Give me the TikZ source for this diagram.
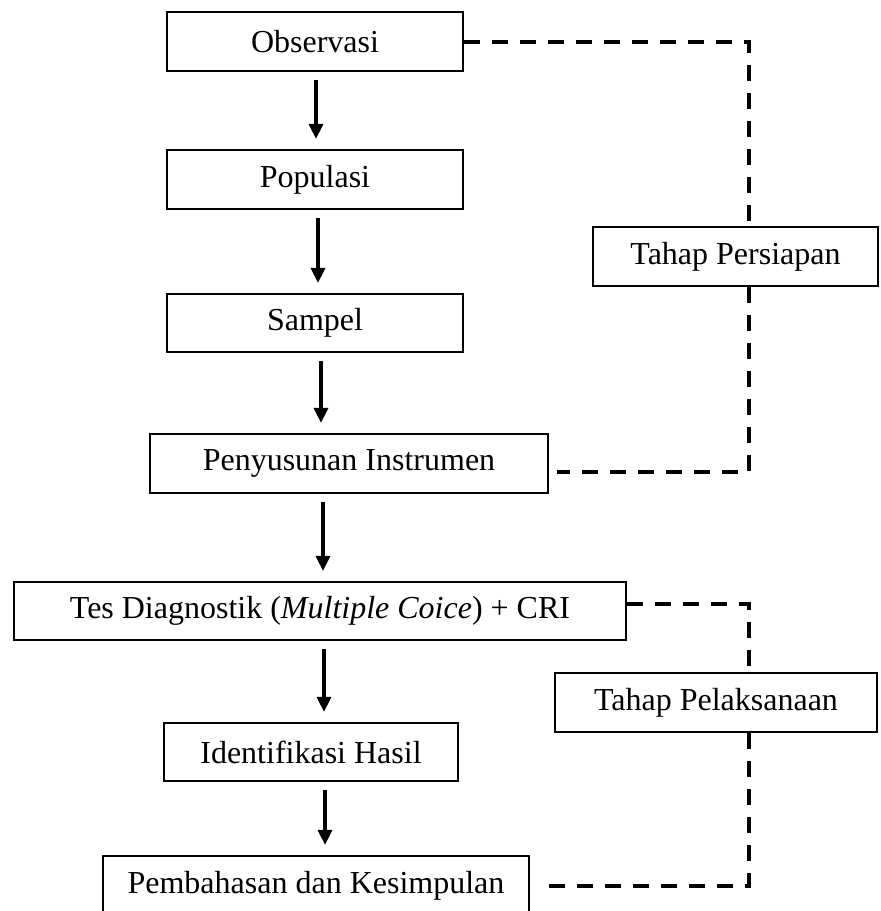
\documentclass[tikz,border=0pt]{standalone}
\usepackage{fontspec}
\setmainfont{Liberation Serif}
\usetikzlibrary{arrows.meta}
\begin{document}
\begin{tikzpicture}[x=0.5pt,y=-0.5pt,
  box/.style={draw=black, line width=1.1pt, inner sep=0pt, font=\fontsize{16pt}{19pt}\selectfont, minimum height=29.5pt},
  arr/.style={line width=1.6pt, -{Triangle[length=7.5pt,width=7pt]}, shorten <=4pt, shorten >=5pt},
  dashline/.style={line width=2pt, dash pattern=on 8pt off 6pt}]
\useasboundingbox (0,0) rectangle (880,911);
\clip (0,0) rectangle (880,911);
\fill[white] (0,0) rectangle (880,911);
\coordinate (a1) at (316,0);
\coordinate (a2) at (318,0);
\coordinate (a3) at (321,0);
\coordinate (a4) at (323,0);
\coordinate (a5) at (324,0);
\coordinate (a6) at (325,0);
\coordinate (dx) at (749,0);
\node[box, minimum width=148pt] (obs) at (315,41.5) {Observasi};
\node[box, minimum width=148pt] (pop) at (315,179.5) {Populasi};
\node[box, minimum width=148pt, minimum height=29pt] (samp) at (315,323) {Sampel};
\node[box, minimum width=199pt] (peny) at (349,463.5) {Penyusunan Instrumen};
\node[box, minimum width=306pt, minimum height=29pt] (tes) at (320,611) {Tes Diagnostik (\textit{Multiple Coice}) + CRI};
\node[box, minimum width=147pt, minimum height=29pt] (ident) at (311,752) {Identifikasi Hasil};
\node[box, minimum width=213pt] (pemb) at (316,885.5) {Pembahasan dan Kesimpulan};
\node[box, minimum width=142.5pt] (tp) at (735.5,256.5) {Tahap Persiapan};
\node[box, minimum width=161pt] (tl) at (716,702.5) {Tahap Pelaksanaan};
\draw[arr] (obs.south -| a1) -- (pop.north -| a1);
\draw[arr] (pop.south -| a2) -- (samp.north -| a2);
\draw[arr] (samp.south -| a3) -- (peny.north -| a3);
\draw[arr] (peny.south -| a4) -- (tes.north -| a4);
\draw[arr] (tes.south -| a5) -- (ident.north -| a5);
\draw[arr] (ident.south -| a6) -- (pemb.north -| a6);
\coordinate (pe) at ([yshift=-4.25pt]peny.east);
\coordinate (te) at ([yshift=3.5pt]tes.east);
\draw[dashline] (obs.east) -- (obs.east -| dx) -- (tp.north -| dx);
\draw[dashline] (tp.south -| dx) -- (pe -| dx) -- ([xshift=4pt]pe);
\draw[dashline] (te) -- (te -| dx) -- (tl.north -| dx);
\draw[dashline] (tl.south -| dx) -- (pemb.east -| dx) -- ([xshift=4.5pt]pemb.east);
\end{tikzpicture}
\end{document}
